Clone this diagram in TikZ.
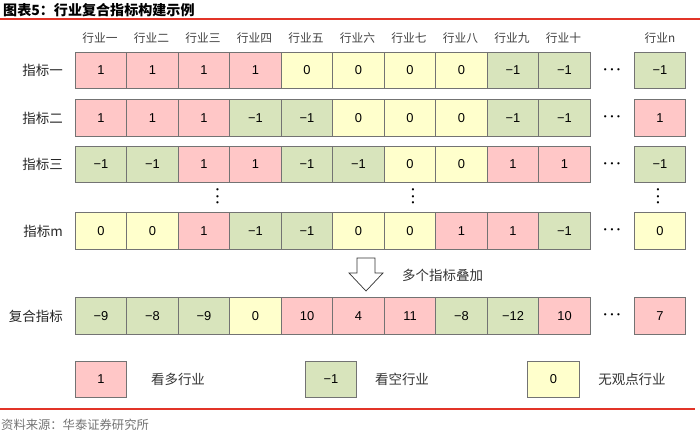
\documentclass[tikz,border=0pt]{standalone}
\usepackage{fontspec}
\setmainfont{Liberation Sans}
\newfontfamily\cjk{Noto Sans CJK SC}
\usetikzlibrary{positioning}
\definecolor{bullpink}{RGB}{255,199,199}
\definecolor{beargreen}{RGB}{216,228,188}
\definecolor{flatyellow}{RGB}{255,255,204}
\definecolor{rulered}{RGB}{226,52,40}
\newcommand{\moredots}{{\fontsize{7}{7}\selectfont\textbullet\kern3.2pt\textbullet\kern3.2pt\textbullet}}
\newcommand{\downdots}{\vbox{\fontsize{7}{7}\selectfont\baselineskip=5.5pt\lineskiplimit=0pt\hbox{\textbullet}\hbox{\textbullet}\hbox{\textbullet}}}
\tikzstyle{cell} = [rectangle, minimum width=1.545cm, minimum height=1.095cm, inner sep=0pt, text centered, draw=black!55, line width=0.6pt, font=\fontsize{11}{13}\selectfont]
\tikzstyle{bull} = [cell, fill=bullpink]
\tikzstyle{bear} = [cell, fill=beargreen]
\tikzstyle{flat} = [cell, fill=flatyellow]
\tikzstyle{header} = [text=black!75, font=\cjk\fontsize{10}{12}\selectfont]
\tikzstyle{rowlabel} = [anchor=east, inner sep=0pt, text=black!85, font=\cjk\fontsize{11.5}{13}\selectfont]
\tikzstyle{legendtext} = [text=black!80, font=\cjk\fontsize{11.5}{13}\selectfont]
\tikzstyle{redrule} = [rulered, line width=1.4pt]

\begin{document}
\begin{tikzpicture}[x=0.03cm, y=-0.03cm, node distance=1.545cm]
        \useasboundingbox (0,0) rectangle (700,433);

        % title and rules
        \node (title) [anchor=west, inner sep=0pt, font=\cjk\bfseries\fontsize{12}{14}\selectfont] at (3,10) {图表5：行业复合指标构建示例};
        \coordinate (topl) at (0,19);
        \coordinate (topr) at (700,19);
        \draw [redrule] (topl) -- (topr);

        % industry headers
        \node (h1) [header] at (100,38) {行业一};
        \node (h2) [header, right of=h1] {行业二};
        \node (h3) [header, right of=h2] {行业三};
        \node (h4) [header, right of=h3] {行业四};
        \node (h5) [header, right of=h4] {行业五};
        \node (h6) [header, right of=h5] {行业六};
        \node (h7) [header, right of=h6] {行业七};
        \node (h8) [header, right of=h7] {行业八};
        \node (h9) [header, right of=h8] {行业九};
        \node (h10) [header, right of=h9] {行业十};
        \node (hn) [header] at (660,38) {行业n};

        % indicator one
        \node (la) [rowlabel] at (63,70.5) {指标一};
        \node (a1) [bull] at (101,70.5) {1};
        \node (a2) [bull, right of=a1] {1};
        \node (a3) [bull, right of=a2] {1};
        \node (a4) [bull, right of=a3] {1};
        \node (a5) [flat, right of=a4] {0};
        \node (a6) [flat, right of=a5] {0};
        \node (a7) [flat, right of=a6] {0};
        \node (a8) [flat, right of=a7] {0};
        \node (a9) [bear, right of=a8] {−1};
        \node (a10) [bear, right of=a9] {−1};
        \node (adots) at (612,70.5) {\moredots};
        \node (an) [bear] at (660,70.5) {−1};

        % indicator two
        \node (lb) [rowlabel] at (63,118) {指标二};
        \node (b1) [bull] at (101,118) {1};
        \node (b2) [bull, right of=b1] {1};
        \node (b3) [bull, right of=b2] {1};
        \node (b4) [bear, right of=b3] {−1};
        \node (b5) [bear, right of=b4] {−1};
        \node (b6) [flat, right of=b5] {0};
        \node (b7) [flat, right of=b6] {0};
        \node (b8) [flat, right of=b7] {0};
        \node (b9) [bear, right of=b8] {−1};
        \node (b10) [bear, right of=b9] {−1};
        \node (bdots) at (612,118) {\moredots};
        \node (bn) [bull] at (660,118) {1};

        % indicator three
        \node (lc) [rowlabel] at (63,164.5) {指标三};
        \node (c1) [bear] at (101,164.5) {−1};
        \node (c2) [bear, right of=c1] {−1};
        \node (c3) [bull, right of=c2] {1};
        \node (c4) [bull, right of=c3] {1};
        \node (c5) [bear, right of=c4] {−1};
        \node (c6) [bear, right of=c5] {−1};
        \node (c7) [flat, right of=c6] {0};
        \node (c8) [flat, right of=c7] {0};
        \node (c9) [bull, right of=c8] {1};
        \node (c10) [bull, right of=c9] {1};
        \node (cdots) at (612,164.5) {\moredots};
        \node (cn) [bear] at (660,164.5) {−1};

        % skipped indicators
        \node (vd1) at (217.5,197.5) {\downdots};
        \node (vd2) at (413,197.5) {\downdots};
        \node (vdn) at (658,197.5) {\downdots};

        % indicator m
        \node (lm) [rowlabel] at (63,231) {指标m};
        \node (m1) [flat] at (101,231) {0};
        \node (m2) [flat, right of=m1] {0};
        \node (m3) [bull, right of=m2] {1};
        \node (m4) [bear, right of=m3] {−1};
        \node (m5) [bear, right of=m4] {−1};
        \node (m6) [flat, right of=m5] {0};
        \node (m7) [flat, right of=m6] {0};
        \node (m8) [bull, right of=m7] {1};
        \node (m9) [bull, right of=m8] {1};
        \node (m10) [bear, right of=m9] {−1};
        \node (mdots) at (612,231) {\moredots};
        \node (mn) [flat] at (660,231) {0};

        % stacking arrow
        \coordinate (stack) at (366,258);
        \draw [black!80, line width=0.6pt] (stack) ++(-9,0) -- ++(18,0) -- ++(0,15) -- ++(8,0) -- ++(-17,18) -- ++(-17,-18) -- ++(8,0) -- cycle;
        \node (stacktext) [legendtext, anchor=west] at (398,275) {多个指标叠加};

        % composite
        \node (ls) [rowlabel] at (63,316) {复合指标};
        \node (s1) [bear] at (101,316) {−9};
        \node (s2) [bear, right of=s1] {−8};
        \node (s3) [bear, right of=s2] {−9};
        \node (s4) [flat, right of=s3] {0};
        \node (s5) [bull, right of=s4] {10};
        \node (s6) [bull, right of=s5] {4};
        \node (s7) [bull, right of=s6] {11};
        \node (s8) [bear, right of=s7] {−8};
        \node (s9) [bear, right of=s8] {−12};
        \node (s10) [bull, right of=s9] {10};
        \node (sdots) at (612,316) {\moredots};
        \node (sn) [bull] at (660,316) {7};

        % legend
        \node (kbull) [bull] at (101,379.5) {1};
        \node (tbull) [legendtext] at (178,379.5) {看多行业};
        \node (kbear) [bear] at (331,379.5) {−1};
        \node (tbear) [legendtext] at (402,379.5) {看空行业};
        \node (kflat) [flat] at (553.5,379.5) {0};
        \node (tflat) [legendtext] at (632,379.5) {无观点行业};

        % source
        \coordinate (botl) at (0,409);
        \coordinate (botr) at (695,409);
        \draw [redrule] (botl) -- (botr);
        \node (source) [anchor=west, inner sep=0pt, text=black!55, font=\cjk\fontsize{10.5}{12}\selectfont] at (1,425) {资料来源：华泰证券研究所};

        \end{tikzpicture}
\end{document}
